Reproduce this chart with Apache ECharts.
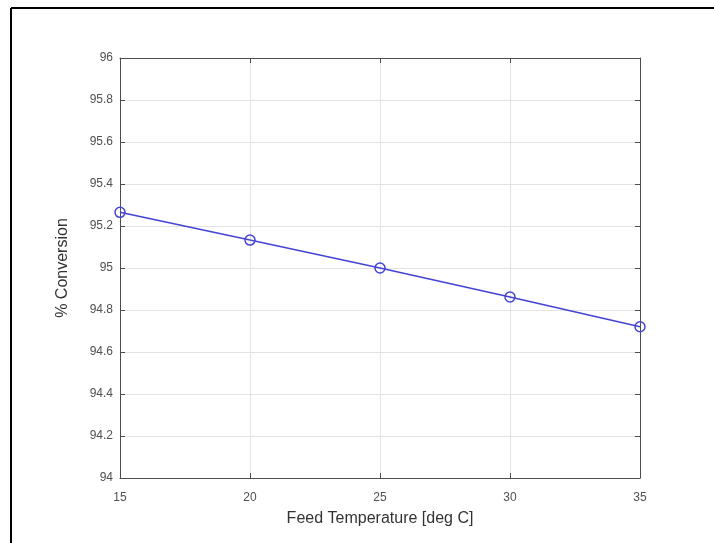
<!DOCTYPE html>
<html>
<head>
<meta charset="utf-8">
<script src="https://cdn.jsdelivr.net/npm/echarts@6/dist/echarts.min.js"></script>
<style>
  html, body { margin: 0; padding: 0; background: #fff; }
  #chart { width: 714px; height: 543px; }
</style>
</head>
<body>
<div id="chart"></div>
<script>
// feed temperature (deg C) and % conversion
var feedTemp = [15, 20, 25, 30, 35];
var conversion = [95.265, 95.133, 95.0, 94.862, 94.72];
var xTicks = [15, 20, 25, 30, 35];
var yTicks = [94, 94.2, 94.4, 94.6, 94.8, 95, 95.2, 95.4, 95.6, 95.8, 96];

var axisCol = '#4d4d4d';
var gridCol = '#e3e3e3';
var fontFam = 'Liberation Sans, Arial';
var labelFont = {color: '#505050', fontSize: 12, fontFamily: fontFam};
var nameFont = {color: '#333', fontSize: 16, fontFamily: fontFam};

var chart = echarts.init(document.getElementById('chart'));

var option = {
  backgroundColor: '#fff',
  animation: false,
  grid: {left: 120, right: 74, top: 58, bottom: 65, containLabel: false},
  graphic: [
    // black frame round the figure, only top and left edges fall in view
    {type: 'line', shape: {x1: 11, y1: 8, x2: 714, y2: 8}, style: {stroke: '#000', lineWidth: 2}},
    {type: 'line', shape: {x1: 11, y1: 8, x2: 11, y2: 543}, style: {stroke: '#000', lineWidth: 2}}
  ],
  xAxis: [{
    type: 'value',
    min: xTicks[0],
    max: xTicks[xTicks.length - 1],
    interval: 5,
    name: 'Feed Temperature [deg C]',
    nameLocation: 'middle',
    nameGap: 33,
    nameTextStyle: nameFont,
    axisLine: {show: true, lineStyle: {color: axisCol, width: 1}},
    axisTick: {show: true, inside: true, length: 5, lineStyle: {color: axisCol}},
    axisLabel: Object.assign({margin: 14}, labelFont),
    splitLine: {show: true, lineStyle: {color: gridCol, width: 1}}
  }, {
    type: 'value',
    position: 'top',
    min: xTicks[0],
    max: xTicks[xTicks.length - 1],
    interval: 5,
    axisLine: {show: true, lineStyle: {color: axisCol, width: 1}},
    axisTick: {show: true, inside: true, length: 5, lineStyle: {color: axisCol}},
    axisLabel: {show: false},
    splitLine: {show: false}
  }],
  yAxis: [{
    type: 'value',
    min: yTicks[0],
    max: yTicks[yTicks.length - 1],
    interval: 0.2,
    name: '% Conversion',
    nameLocation: 'middle',
    nameGap: 49,
    nameTextStyle: nameFont,
    axisLine: {show: true, lineStyle: {color: axisCol, width: 1}},
    axisTick: {show: true, inside: true, length: 5, lineStyle: {color: axisCol}},
    axisLabel: Object.assign({margin: 7, formatter: function(v) { return +v.toFixed(1) + ''; }}, labelFont),
    splitLine: {show: true, lineStyle: {color: gridCol, width: 1}}
  }, {
    type: 'value',
    position: 'right',
    min: yTicks[0],
    max: yTicks[yTicks.length - 1],
    interval: 0.2,
    axisLine: {show: true, lineStyle: {color: axisCol, width: 1}},
    axisTick: {show: true, inside: true, length: 5, lineStyle: {color: axisCol}},
    axisLabel: {show: false},
    splitLine: {show: false}
  }],
  series: [{
    type: 'line',
    data: feedTemp.map(function(t, i) { return [t, conversion[i]]; }),
    symbol: 'circle',
    symbolSize: 10,
    showAllSymbol: true,
    lineStyle: {color: '#4343d6', width: 1.5},
    itemStyle: {color: 'rgba(0,0,0,0)', borderColor: '#4343d6', borderWidth: 1.5},
    clip: false
  }]
};

chart.setOption(option);
</script>
</body>
</html>
